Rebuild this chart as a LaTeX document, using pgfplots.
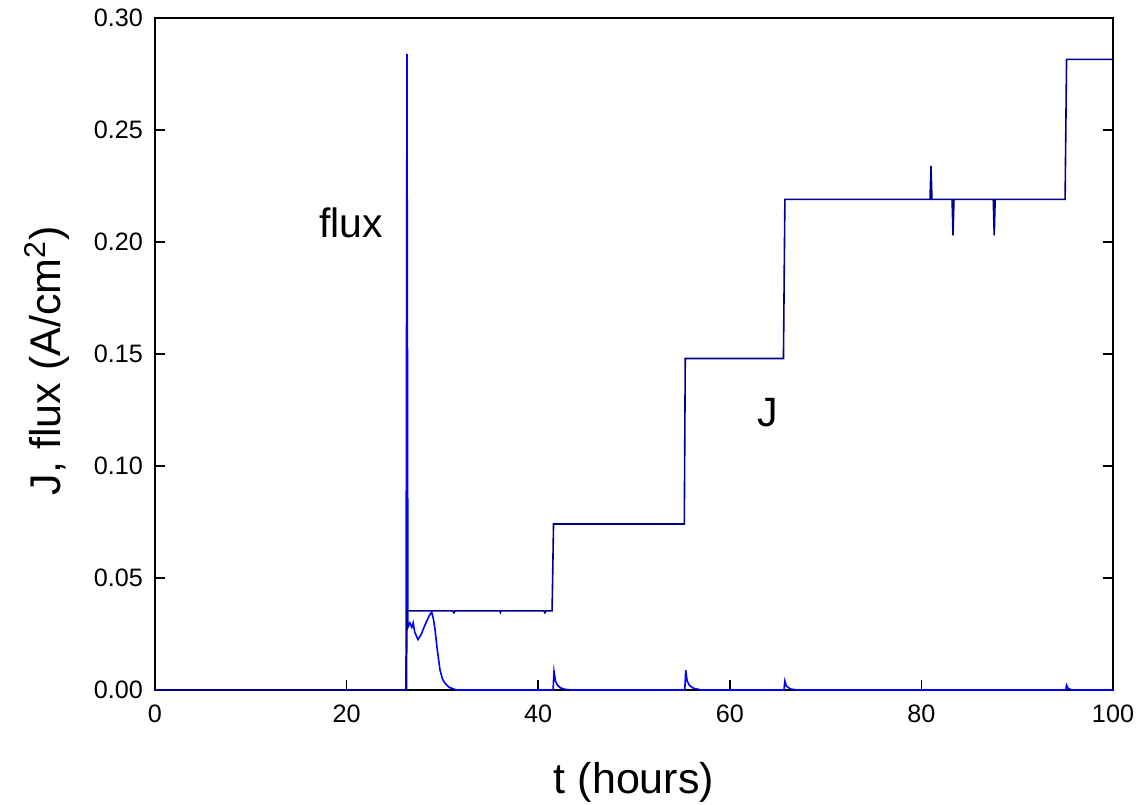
\documentclass[border=0pt]{standalone}
\usepackage{fontspec}
\setmainfont{Liberation Sans}
\usepackage{pgfplots}
\pgfplotsset{compat=1.18}
\definecolor{jnavy}{RGB}{0,0,140}
\definecolor{fluxblue}{RGB}{0,0,255}
\begin{document}
\begin{tikzpicture}
\begin{axis}[
  scale only axis,
  width=479pt, height=336pt,
  xmin=0, xmax=100, ymin=0, ymax=0.30,
  xtick={0,20,...,100},
  ytick={0,0.05,...,0.30},
  tick align=inside,
  xtick pos=bottom,
  ytick pos=both,
  major tick length=5pt,
  every tick/.style={black, line width=0.8pt},
  axis line style={line width=1.4pt, black},
  clip=false,
  /pgf/number format/assume math mode=true,
  tick label style={font=\fontsize{12.6}{14}\selectfont},
  yticklabel style={xshift=-2.5pt, /pgf/number format/.cd, fixed, fixed zerofill, precision=2},
  xticklabel style={yshift=-4pt, /pgf/number format/.cd, fixed, precision=0},
  scaled y ticks=false,
  xlabel={t (hours)},
  ylabel={J, flux (A/cm\textsuperscript{2})},
  every axis x label/.style={at={(axis description cs:0.5,-0.138)}, anchor=center, font=\fontsize{21.5}{24}\selectfont},
  every axis y label/.style={at={(axis description cs:-0.113,0.49)}, anchor=center, rotate=90, font=\fontsize{21.5}{24}\selectfont},
]
\addplot[color=fluxblue, line width=0.8pt] coordinates {
(0,0)(26.2,0)(26.3,0.284)(26.4,0.028)(26.6,0.030)(26.8,0.028)(26.95,0.030)(27.1,0.026)(27.45,0.0225)(27.8,0.025)(28.18,0.029)(28.6,0.033)(28.88,0.0348)(29.05,0.032)(29.23,0.027)(29.46,0.018)(29.75,0.009)(30.0,0.005)(30.27,0.003)(30.7,0.0012)(31.14,0.0005)(31.5,0)
(41.55,0)(41.65,0.0082)(41.8,0.004)(42.0,0.0022)(42.3,0.001)(42.8,0.0003)(43.5,0)
(55.3,0)(55.4,0.0088)(55.55,0.004)(55.8,0.002)(56.2,0.0008)(57,0)
(65.65,0)(65.75,0.004)(65.9,0.0018)(66.3,0.0005)(67,0)
(95.05,0)(95.15,0.0022)(95.3,0.0008)(95.7,0)(100,0)
};
\addplot[color=jnavy, line width=0.8pt] coordinates {
(0,0)(26.25,0)(26.3,0.0353)(31.1,0.0353)(31.2,0.0345)(31.3,0.0353)(36.0,0.0353)(36.05,0.0347)(36.1,0.0353)(40.6,0.0353)(40.7,0.0345)(40.8,0.0353)(41.45,0.0353)(41.6,0.0741)(55.25,0.0741)(55.35,0.148)(65.6,0.148)(65.75,0.219)(80.9,0.219)(81.0,0.234)(81.1,0.219)(83.2,0.219)(83.3,0.203)(83.4,0.219)(87.5,0.219)(87.6,0.203)(87.7,0.219)(95.0,0.219)(95.15,0.2815)(100,0.2815)
};
\node[font=\fontsize{20.5}{23}\selectfont] at (axis cs:20.5,0.2085) {flux};
\node[font=\fontsize{20.5}{23}\selectfont] at (axis cs:64.0,0.124) {J};
\end{axis}
\pgfresetboundingbox
\useasboundingbox ([shift={(-77.5pt,-57pt)}]current axis.south west) rectangle ([shift={(13pt,9pt)}]current axis.north east);
\end{tikzpicture}
\end{document}
